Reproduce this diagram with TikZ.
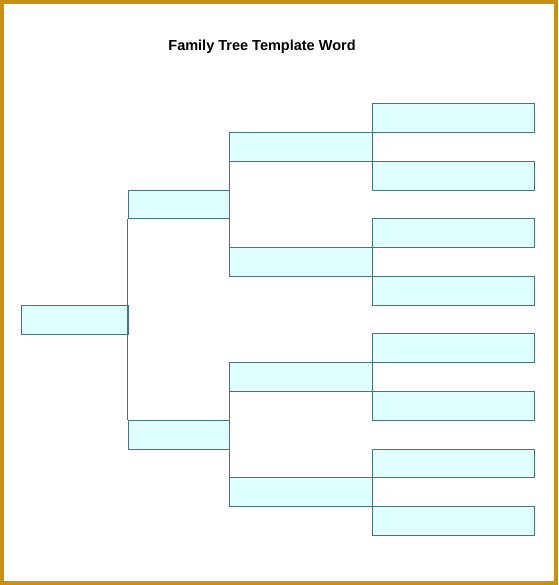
\documentclass[tikz,border=0pt]{standalone}
\usepackage{fontspec}
\setmainfont{Liberation Sans}
\definecolor{framegold}{HTML}{C8920C}
\definecolor{boxline}{HTML}{47747A}
\definecolor{boxfill}{HTML}{E0FFFF}
\begin{document}
\begin{tikzpicture}[x=1pt, y=-1pt,
    personbox/.style={draw=boxline, fill=boxfill, line width=0.8pt, inner sep=0pt, minimum height=28.8pt, anchor=north west},
    link/.style={draw=boxline, line width=0.8pt}]
    \useasboundingbox (0,0) rectangle (558,585);
    \draw[framegold, line width=4pt] (2,2) rectangle (556,583);
    \node[anchor=base, font=\bfseries\fontsize{14.5}{16}\selectfont] (title) at (262,50.5) {Family Tree Template Word};

    %great-grandparents
    \foreach \i in {1,...,8} {
      \node[personbox, minimum width=161.7pt] (gg\i) at (372.3, {103.2+57.55*(\i-1)}) {};
    }
    %grandparents
    \foreach \i in {1,...,4} {
      \node[personbox, minimum width=143pt] (g\i) at (229.3, {132+115.1*(\i-1)}) {};
    }
    %parents
    \node[personbox, minimum width=101.6pt] (p1) at (127.7,189.6) {};
    \node[personbox, minimum width=101.6pt] (p2) at (127.7,419.8) {};
    %child
    \node[personbox, minimum width=107pt] (root) at (20.7,304.7) {};

    \draw[link] (g1.south west) -- (g2.north west);
    \draw[link] (g3.south west) -- (g4.north west);
    \draw[link] (p1.south west) -- (p2.north west);
  \end{tikzpicture}
\end{document}
